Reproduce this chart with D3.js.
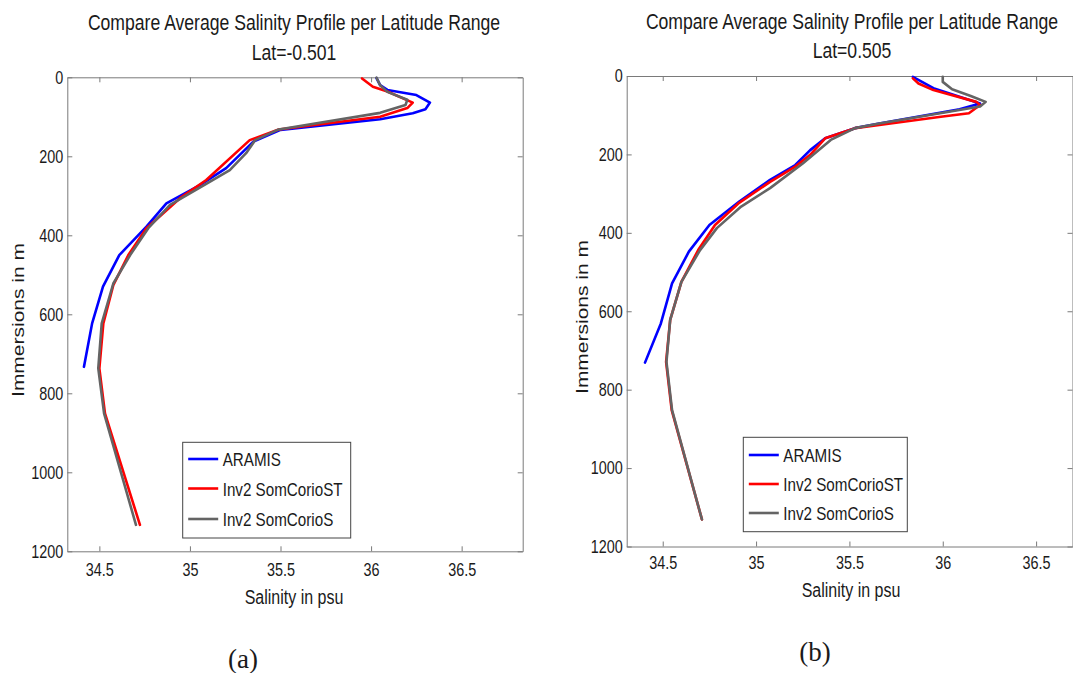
<!DOCTYPE html>
<html>
<head>
<meta charset="utf-8">
<script src="https://cdn.jsdelivr.net/npm/d3@7"></script>
<style>
  html, body { margin: 0; padding: 0; background: #fff; }
  svg { display: block; }
  text { font-family: "Liberation Sans", Arial, sans-serif; fill: #1a1a1a; }
</style>
</head>
<body>
<svg id="chart" width="1073" height="673"></svg>
<script>
// ---------- data ----------
const seriesNames = ["ARAMIS", "Inv2 SomCorioST", "Inv2 SomCorioS"];
const xTicks = [34.5, 35, 35.5, 36, 36.5];
const yTicks = [0, 200, 400, 600, 800, 1000, 1200];
const titleLine1 = "Compare Average Salinity Profile per Latitude Range";
const panelLat = ["Lat=-0.501", "Lat=0.505"];
const panelTags = ["(a)", "(b)"];

// panel (a)
const aAramisDepth = [2, 20, 32, 45, 64, 81, 91, 106, 133, 163, 230, 273, 319, 378, 450, 530, 623, 733];
const aAramisSal   = [36.03, 36.05, 36.09, 36.25, 36.325, 36.30, 36.23, 36.05, 35.50, 35.35, 35.20, 35.055, 34.87, 34.76, 34.61, 34.52, 34.46, 34.415];
const aSTDepth = [3, 24, 36, 64, 78, 100, 132, 159, 260, 306, 382, 450, 526, 623, 737, 851, 1133];
const aSTSal   = [35.95, 36.01, 36.09, 36.23, 36.20, 36.05, 35.49, 35.33, 35.09, 34.945, 34.76, 34.66, 34.577, 34.522, 34.50, 34.531, 34.724];
const aSDepth = [1, 20, 37, 57, 70, 90, 132, 159, 192, 235, 270, 323, 382, 450, 522, 623, 737, 851, 1133];
const aSSal   = [36.03, 36.05, 36.09, 36.20, 36.19, 36.05, 35.49, 35.36, 35.31, 35.22, 35.09, 34.89, 34.77, 34.67, 34.577, 34.513, 34.494, 34.526, 34.702];

// panel (b)
const bAramisDepth = [2, 31, 70, 85, 121, 133, 159, 189, 227, 265, 320, 380, 448, 529, 631, 731];
const bAramisSal   = [35.84, 35.95, 36.20, 36.09, 35.66, 35.53, 35.37, 35.29, 35.21, 35.075, 34.91, 34.75, 34.64, 34.55, 34.49, 34.405];
const bSTDepth = [6, 19, 36, 66, 74, 95, 104, 125, 133, 159, 201, 231, 270, 325, 380, 444, 525, 622, 729, 852, 1131];
const bSTSal   = [35.84, 35.87, 35.95, 36.18, 36.20, 36.14, 35.99, 35.66, 35.53, 35.37, 35.29, 35.21, 35.075, 34.905, 34.78, 34.69, 34.60, 34.54, 34.518, 34.548, 34.71];
const bSDepth = [2, 15, 34, 51, 66, 78, 121, 133, 163, 223, 286, 333, 388, 444, 525, 622, 729, 852, 1131];
const bSSal   = [36.00, 36.00, 36.05, 36.15, 36.23, 36.20, 35.66, 35.53, 35.40, 35.25, 35.075, 34.92, 34.79, 34.70, 34.60, 34.54, 34.52, 34.55, 34.71];

// ---------- layout / style ----------
const colors = ["#0000ff", "#ff0000", "#646464"];
const SX = 0.8; // horizontal squeeze of the original figure's text

const panels = [
  { box: [67.3, 522.7, 77.3, 551.3], sal: [34.323, 36.837],
    series: [[aAramisDepth, aAramisSal], [aSTDepth, aSTSal], [aSDepth, aSSal]],
    title1Y: 30, title2Y: 60, titleX: 294, tickPadX: 12, ylabX: 24, ylabY: 320,
    xlabX: 294, xlabY: 604, tagX: 243, tagY: 668,
    legend: { x: 182.7, y: 442.3, w: 168, h: 95.7, rows: [459, 488.5, 519] } },
  { box: [626.7, 1072.5, 76, 546.5], sal: [34.307, 36.695],
    series: [[bAramisDepth, bAramisSal], [bSTDepth, bSTSal], [bSDepth, bSSal]],
    title1Y: 29, title2Y: 58, titleX: 852, tickPadX: 10, ylabX: 588, ylabY: 317,
    xlabX: 851, xlabY: 597, tagX: 815, tagY: 661,
    legend: { x: 743.3, y: 437.3, w: 164, h: 94.4, rows: [455, 484, 513] } }
];

const svg = d3.select("#chart");

function label(g, x, y, str, size, anchor, rotate, family) {
  const tr = rotate ? `translate(${x},${y}) rotate(-90) scale(1,${SX})`
                    : `translate(${x},${y}) scale(${SX},1)`;
  return g.append("text")
    .attr("transform", tr)
    .attr("text-anchor", anchor || "start")
    .style("font-size", size + "px")
    .style("font-family", family || null)
    .text(str);
}

panels.forEach((p, pi) => {
  const [x0, x1, y0, y1] = p.box;
  const x = d3.scaleLinear().domain(p.sal).range([x0, x1]);
  const y = d3.scaleLinear().domain([0, 1200]).range([y0, y1]);
  const g = svg.append("g");

  // titles
  label(g, p.titleX, p.title1Y, titleLine1, 22, "middle");
  label(g, p.titleX, p.title2Y, panelLat[pi], 22, "middle");

  // axes (ticks inward, box on all sides)
  const axColor = "#7a7a7a";
  const styleAxis = sel => {
    sel.select(".domain").attr("stroke", axColor);
    sel.selectAll(".tick line").attr("stroke", axColor);
  };
  const gl = g.append("g").attr("transform", `translate(${x0},0)`)
    .call(d3.axisLeft(y).tickValues(yTicks).tickSize(-5).tickSizeOuter(0).tickPadding(5).tickFormat(d3.format("d")));
  styleAxis(gl);
  gl.selectAll(".tick text").attr("x", -5).attr("transform", `scale(${SX},1)`)
    .style("font-size", "18px").attr("fill", "#1a1a1a");
  const gb = g.append("g").attr("transform", `translate(0,${y1})`)
    .call(d3.axisBottom(x).tickValues(xTicks).tickSize(-5).tickSizeOuter(0).tickPadding(p.tickPadX).tickFormat(d3.format("")));
  styleAxis(gb);
  gb.selectAll(".tick text").attr("transform", `scale(${SX},1)`).attr("x", 0)
    .style("font-size", "18px").attr("fill", "#1a1a1a");
  gb.selectAll(".tick").each(function(d) {
    // keep labels centered under ticks after squeeze
    d3.select(this).select("text").attr("transform", `scale(${SX},1)`);
  });
  const gt = g.append("g").attr("transform", `translate(0,${y0})`)
    .call(d3.axisTop(x).tickValues(xTicks).tickSize(-5).tickSizeOuter(0).tickFormat(""));
  styleAxis(gt);
  const gr = g.append("g").attr("transform", `translate(${x1},0)`)
    .call(d3.axisRight(y).tickValues(yTicks).tickSize(-5).tickSizeOuter(0).tickFormat(""));
  styleAxis(gr);

  // axis labels
  label(g, p.xlabX, p.xlabY, "Salinity in psu", 20, "middle");
  label(g, p.ylabX, p.ylabY, "Immersions in m", 21, "middle", true);

  // lines
  const line = d3.line().x(d => x(d.s)).y(d => y(d.d));
  p.series.forEach((sr, si) => {
    const pts = sr[0].map((dep, i) => ({ d: dep, s: sr[1][i] }));
    g.append("path").datum(pts)
      .attr("d", line)
      .attr("fill", "none")
      .attr("stroke", colors[si])
      .attr("stroke-width", 2.6)
      .attr("stroke-linejoin", "round")
      .attr("stroke-linecap", "round");
  });

  // legend
  const L = p.legend;
  g.append("rect").attr("x", L.x).attr("y", L.y).attr("width", L.w).attr("height", L.h)
    .attr("fill", "#fff").attr("stroke", "#444").attr("stroke-width", 1);
  seriesNames.forEach((nm, si) => {
    const ry = L.rows[si];
    g.append("line").attr("x1", L.x + 5.5).attr("x2", L.x + 35.5).attr("y1", ry).attr("y2", ry)
      .attr("stroke", colors[si]).attr("stroke-width", 2.6);
    label(g, L.x + 40, ry + 7, nm, 19, "start");
  });

  // panel tag
  svg.append("text").attr("x", p.tagX).attr("y", p.tagY).attr("text-anchor", "middle")
    .style("font-family", "'Liberation Serif', 'Times New Roman', serif")
    .style("font-size", "27px").text(panelTags[pi]);
});
</script>
</body>
</html>
